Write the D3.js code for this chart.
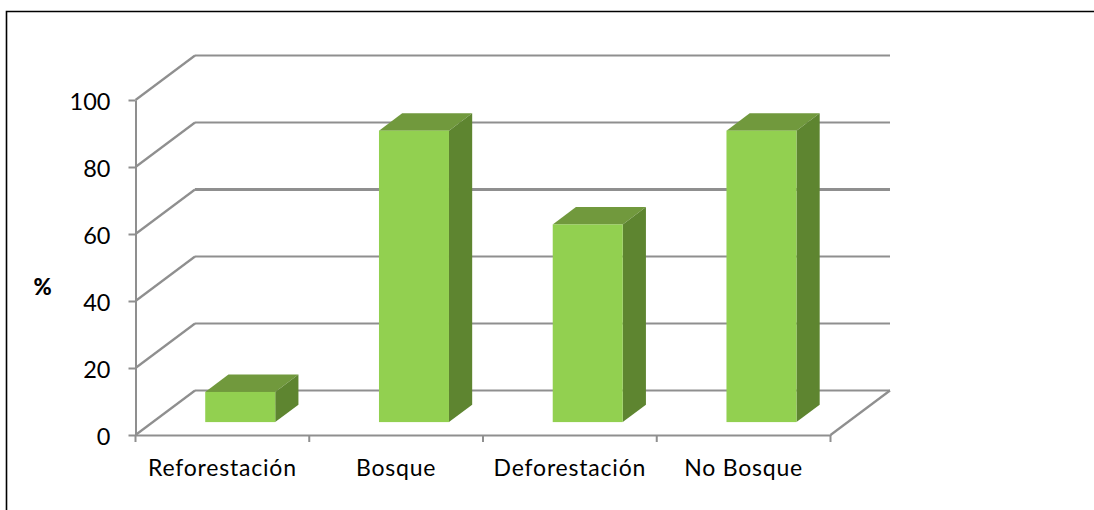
<!DOCTYPE html>
<html>
<head>
<meta charset="utf-8">
<script src="https://cdn.jsdelivr.net/npm/d3@7"></script>
<style>
  html, body { margin: 0; padding: 0; background: #fff; overflow: hidden; }
  text { font-family: Lato, sans-serif; fill: #000; }
</style>
</head>
<body>
<div id="chart"></div>
<script>
// Percent by land cover class
const categories = ['Reforestación', 'Bosque', 'Deforestación', 'No Bosque'];
const values = [9, 87, 59, 87];
const yTicks = [0, 20, 40, 60, 80, 100];

const width = 1094;
const height = 510;

const gridColor = '#8f8f8f';
const frontColor = '#92d050';
const sideColor = '#5e8530';
const topColor = '#71993d';

// Floor depth of the 3D box
const depthX = 59.5;
const depthY = -44.5;
const barDepth = 0.39;
const barOffsetX = 0.3;
const barOffsetY = 0.29;

const svg = d3.select('#chart')
  .append('svg')
  .attr('width', width)
  .attr('height', height)
  .attr('viewBox', [0, 0, width, height])
  .style('display', 'block');

const x = d3.scaleBand()
  .domain(categories)
  .range([135.5, 830.5]);

const y = d3.scaleLinear()
  .domain([0, 100])
  .range([435, 100]);

// Outer frame, open on the right and at the bottom
svg.append('path')
  .attr('d', 'M6.5,510V11.5H1094')
  .attr('fill', 'none')
  .attr('stroke', '#000')
  .attr('stroke-width', 1.6);

// Side wall and back wall gridlines
const grid = svg.append('g')
  .attr('fill', 'none')
  .attr('stroke', gridColor)
  .attr('stroke-width', 2.2);

grid.selectAll('.wall')
  .data(yTicks)
  .join('path')
  .attr('class', 'wall')
  .attr('d', d => `M${x.range()[0]},${y(d)}l${depthX},${depthY}`);

grid.selectAll('.back')
  .data(yTicks)
  .join('path')
  .attr('class', 'back')
  .attr('stroke-width', d => d === 60 ? 2.8 : 2.2)
  .attr('d', d => `M${x.range()[0] + depthX},${y(d) + depthY}H${x.range()[1] + depthX}`);

// Right edge of the floor
grid.append('path')
  .attr('d', `M${x.range()[1]},${y(0)}l${depthX},${depthY}`);

// Bars: top, side and front faces
const bars = svg.append('g')
  .selectAll('g')
  .data(categories.map((name, i) => ({ name, value: values[i] })))
  .join('g')
  .attr('transform', d => {
    const cx = x(d.name) + x.bandwidth() / 2 + depthX * barOffsetX;
    return `translate(${cx},${depthY * barOffsetY})`;
  });

const barWidth = 70;
const dx = depthX * barDepth;
const dy = depthY * barDepth;

bars.append('path')
  .attr('fill', topColor)
  .attr('d', d => {
    const t = y(d.value);
    return `M${-barWidth / 2},${t}l${dx},${dy}h${barWidth}l${-dx},${-dy}Z`;
  });

bars.append('path')
  .attr('fill', sideColor)
  .attr('d', d => {
    const t = y(d.value);
    const b = y(0);
    return `M${barWidth / 2},${t}l${dx},${dy}V${b + dy}l${-dx},${-dy}Z`;
  });

bars.append('rect')
  .attr('fill', frontColor)
  .attr('x', -barWidth / 2)
  .attr('width', barWidth)
  .attr('y', d => y(d.value))
  .attr('height', d => y(0) - y(d.value));

// Y axis
const yAxis = svg.append('g')
  .attr('transform', `translate(${x.range()[0]},0)`)
  .call(d3.axisLeft(y).tickValues(yTicks).tickSize(7).tickSizeOuter(0).tickPadding(18));

// X axis, with ticks between the categories
const xAxis = svg.append('g')
  .attr('transform', `translate(0,${y(0)})`)
  .call(d3.axisBottom(x).tickSize(0).tickPadding(25));

xAxis.selectAll('.sep')
  .data([0, 1, 2, 3, 4])
  .join('line')
  .attr('class', 'sep')
  .attr('x1', i => x.range()[0] + i * x.step())
  .attr('x2', i => x.range()[0] + i * x.step())
  .attr('y1', 0)
  .attr('y2', 7);

[yAxis, xAxis].forEach(axis => {
  axis.selectAll('.domain, line')
    .attr('stroke', gridColor)
    .attr('stroke-width', 2);
});

yAxis.selectAll('.tick text')
  .attr('fill', '#000')
  .attr('dy', '0.42em')
  .style('font-size', '23.5px');

xAxis.selectAll('.tick text')
  .attr('fill', '#000')
  .style('font-size', '23px')
  .style('letter-spacing', '0.8px');

// Y axis title
svg.append('text')
  .attr('x', 42.5)
  .attr('y', 295)
  .attr('text-anchor', 'middle')
  .style('font-size', '22px')
  .style('font-weight', '900')
  .text('%');
</script>
</body>
</html>
